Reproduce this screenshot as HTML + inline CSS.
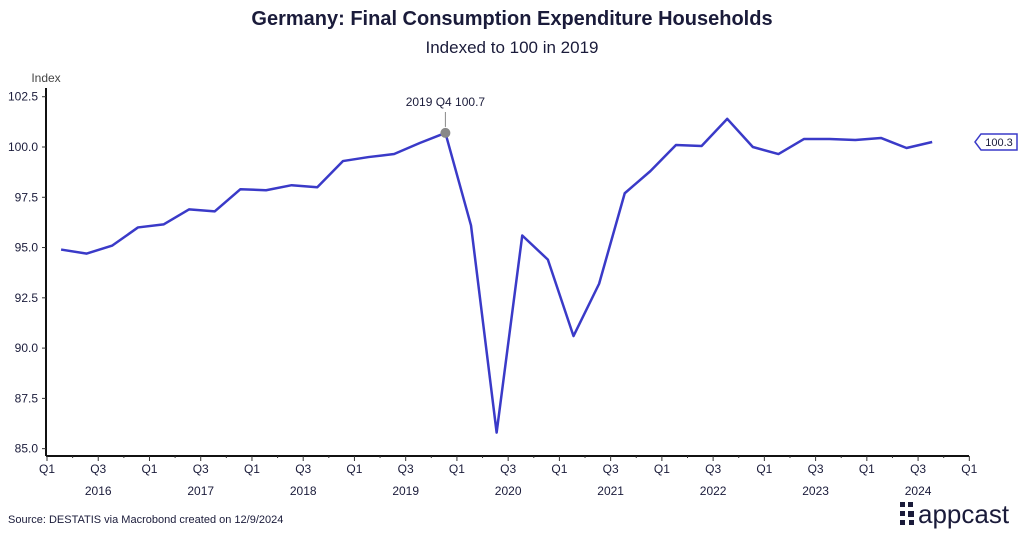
<!DOCTYPE html>
<html><head><meta charset="utf-8"><style>
body{margin:0;background:#fff;width:1024px;height:535px;overflow:hidden;font-family:"Liberation Sans",sans-serif}
</style></head><body>
<svg id="c" width="1024" height="535" style="font-family:'Liberation Sans',sans-serif">
<text x="512" y="25" text-anchor="middle" font-size="20" font-weight="bold" fill="#1a1b3a">Germany: Final Consumption Expenditure Households</text>
<text x="512" y="53" text-anchor="middle" font-size="17" fill="#1a1b3a">Indexed to 100 in 2019</text>
<text x="46" y="82" text-anchor="middle" font-size="12" fill="#444">Index</text>
<text x="8" y="523" font-size="11" fill="#1a1b3a">Source: DESTATIS via Macrobond created on 12/9/2024</text>
<g>
<rect x="900" y="502" width="5" height="5" fill="#1a1b3a"/><rect x="900" y="511" width="5" height="5" fill="#1a1b3a"/><rect x="900" y="520" width="5" height="5" fill="#1a1b3a"/>
<rect x="908" y="502" width="5" height="5" fill="#1a1b3a"/><rect x="908" y="511" width="6" height="6" fill="#1a1b3a"/><rect x="909" y="520" width="5" height="5" fill="#1a1b3a"/>
<text x="918" y="523" font-size="26" fill="#1a1b3a">appcast</text></g>
<g id="axes"></g><g id="plot"></g>
</svg>
<script>
const quarters=["2016Q1","2016Q2","2016Q3","2016Q4","2017Q1","2017Q2","2017Q3","2017Q4","2018Q1","2018Q2","2018Q3","2018Q4","2019Q1","2019Q2","2019Q3","2019Q4","2020Q1","2020Q2","2020Q3","2020Q4","2021Q1","2021Q2","2021Q3","2021Q4","2022Q1","2022Q2","2022Q3","2022Q4","2023Q1","2023Q2","2023Q3","2023Q4","2024Q1","2024Q2","2024Q3"];
const values=[94.9,94.7,95.1,96.0,96.15,96.9,96.8,97.9,97.85,98.1,98.0,99.3,99.5,99.65,100.2,100.7,96.1,85.8,95.6,94.4,90.6,93.2,97.7,98.8,100.1,100.05,101.4,100.0,99.65,100.4,100.4,100.35,100.45,99.95,100.25];
const yTicks=[85,87.5,90,92.5,95,97.5,100,102.5];
const years=["2016","2017","2018","2019","2020","2021","2022","2023","2024"];
const NS="http://www.w3.org/2000/svg";
const x0=47,qw=25.62,y100=147,py=20.11;
const X=i=>x0+qw*(i+0.55);
const Y=v=>y100-(v-100)*py;
function mk(t,a,p){const e=document.createElementNS(NS,t);for(const k in a)e.setAttribute(k,a[k]);p.appendChild(e);return e;}
const ax=document.getElementById('axes'),pl=document.getElementById('plot');
const ya=mk('line',{x1:46,x2:46,y1:88,y2:456,stroke:'#111','stroke-width':2},ax);

const xa=mk('line',{x1:46,x2:969,y1:456,y2:456,stroke:'#111','stroke-width':2},ax);

yTicks.forEach(v=>{mk('line',{x1:42,x2:46,y1:Y(v),y2:Y(v),stroke:'#333'},ax);
const t=mk('text',{x:38,y:Y(v)+4,'text-anchor':'end','font-size':12,fill:'#1a1b3a'},ax);t.textContent=v.toFixed(1);
});
for(let q=0;q<=36;q++){const x=x0+qw*q;mk('line',{x1:x,x2:x,y1:456,y2:q%2?458:461,stroke:'#333'},ax);
if(q%2==0){const t=mk('text',{x:x,y:473,'text-anchor':'middle','font-size':12,fill:'#1a1b3a'},ax);t.textContent=q%4==0?'Q1':'Q3';
}}
years.forEach((y,i)=>{const t=mk('text',{x:x0+qw*(4*i+2),y:495,'text-anchor':'middle','font-size':12,fill:'#1a1b3a'},ax);t.textContent=y;
});
const ln=mk('polyline',{points:values.map((v,i)=>X(i)+','+Y(v)).join(' '),fill:'none',stroke:'#3a3ac8','stroke-width':2.5,'stroke-linejoin':'round'},pl);

const pk=15;
mk('line',{x1:X(pk),x2:X(pk),y1:Y(values[pk])-6,y2:112,stroke:'#888'},pl);
const dot=mk('circle',{cx:X(pk),cy:Y(values[pk]),r:5,fill:'#888'},pl);

const pt=mk('text',{x:X(pk),y:106,'text-anchor':'middle','font-size':12,fill:'#1a1b3a'},pl);pt.textContent='2019 Q4 '+values[pk];

const lv=values[values.length-1],ly=Y(lv);
const lb=mk('path',{d:`M975 ${ly} L981 ${ly-8} L1017 ${ly-8} L1017 ${ly+8} L981 ${ly+8} Z`,fill:'#fff',stroke:'#3a3ac8','stroke-width':1.5},pl);

const lt=mk('text',{x:999,y:ly+4,'text-anchor':'middle','font-size':11,fill:'#1a1b3a'},pl);lt.textContent=lv.toFixed(1);

</script>
</body></html>
